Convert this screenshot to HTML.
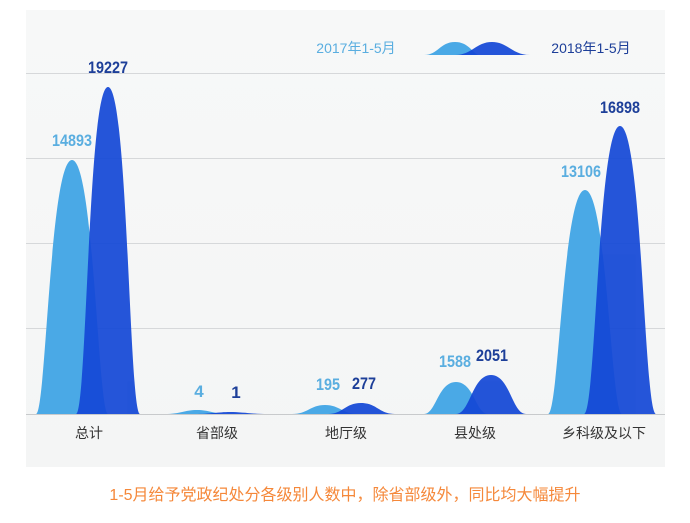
<!DOCTYPE html>
<html><head><meta charset="utf-8"><style>
body{margin:0;background:#fff;width:690px;height:518px;overflow:hidden;font-family:"Liberation Sans","Noto Sans CJK SC",sans-serif}
</style></head><body>
<svg width="690" height="518" viewBox="0 0 690 518" xmlns="http://www.w3.org/2000/svg">
<defs><linearGradient id="bg" x1="0" y1="0" x2="0" y2="1"><stop offset="0" stop-color="#f7f8f8"/><stop offset="1" stop-color="#f4f5f5"/></linearGradient></defs>
<rect x="26" y="10" width="639" height="457" fill="url(#bg)"/>
<g stroke="#d6d8da" stroke-width="1">
<line x1="26" y1="73.5" x2="665" y2="73.5"/><line x1="26" y1="158.5" x2="665" y2="158.5"/>
<line x1="26" y1="243.5" x2="665" y2="243.5"/><line x1="26" y1="328.5" x2="665" y2="328.5"/>
<line x1="26" y1="414.5" x2="665" y2="414.5" stroke="#c8cacc"/>
</g>
<g fill="#4aa9e6">
<path d="M36,414 C46,414 50,160 72,160 C94,160 98,414 108,414Z"/>
<path d="M165,414 C180,414 185,410 197,410 C209,410 214,414 229,414Z"/>
<path d="M292,414 C308,414 310,405 325,405 C340,405 342,414 358,414Z"/>
<path d="M424,414 C436,414 438,382 456,382 C474,382 476,414 488,414Z"/>
<path d="M548,414 C559,414 563,190 585,190 C607,190 611,414 622,414Z"/>
</g>
<g fill="#1448d6" opacity="0.93">
<path d="M76,414 C87,414 88,87 108,87 C128,87 129,414 140,414Z"/>
<path d="M195,414 C210,414 218,412 230,412 C242,412 252,414 268,414Z"/>
<path d="M328,414 C343,414 345,403 361,403 C377,403 379,414 395,414Z"/>
<path d="M456,414 C470,414 472,375 491,375 C510,375 512,414 526,414Z"/>
<path d="M584,414 C596,414 598,126 620,126 C642,126 644,414 656,414Z"/>
</g>
<path d="M424,55 C438,55 440,42 455,42 C468,42 472,52 478,55Z" fill="#4aa9e6"/>
<path d="M455,55 C472,55 476,42 492,42 C508,42 512,55 530,55Z" fill="#1448d6" opacity="0.93"/>
<g font-weight="bold" font-size="17" text-anchor="middle" lengthAdjust="spacingAndGlyphs">
<g fill="#5aaee0">
<text x="72" y="146" textLength="40" lengthAdjust="spacingAndGlyphs">14893</text>
<text x="199" y="397">4</text>
<text x="328" y="390" textLength="24" lengthAdjust="spacingAndGlyphs">195</text>
<text x="455" y="367" textLength="32" lengthAdjust="spacingAndGlyphs">1588</text>
<text x="581" y="177" textLength="40" lengthAdjust="spacingAndGlyphs">13106</text>
</g>
<g fill="#1d3f99">
<text x="108" y="73" textLength="40" lengthAdjust="spacingAndGlyphs">19227</text>
<text x="236" y="398">1</text>
<text x="364" y="389" textLength="24" lengthAdjust="spacingAndGlyphs">277</text>
<text x="492" y="361" textLength="32" lengthAdjust="spacingAndGlyphs">2051</text>
<text x="620" y="113" textLength="40" lengthAdjust="spacingAndGlyphs">16898</text>
</g>
</g>
<text x="356" y="53" fill="#5aaee0" font-size="14" text-anchor="middle">2017年1-5月</text>
<text x="591" y="53" fill="#1d3f99" font-size="14" text-anchor="middle">2018年1-5月</text>
<g fill="#333" font-size="14" text-anchor="middle">
<text x="89" y="438">总计</text><text x="217" y="438">省部级</text><text x="346" y="438">地厅级</text><text x="475" y="438">县处级</text><text x="604" y="438">乡科级及以下</text>
</g>
<text x="345" y="500" fill="#f5883a" font-size="16" text-anchor="middle">1-5月给予党政纪处分各级别人数中，除省部级外，同比均大幅提升</text>
</svg>
</body></html>
